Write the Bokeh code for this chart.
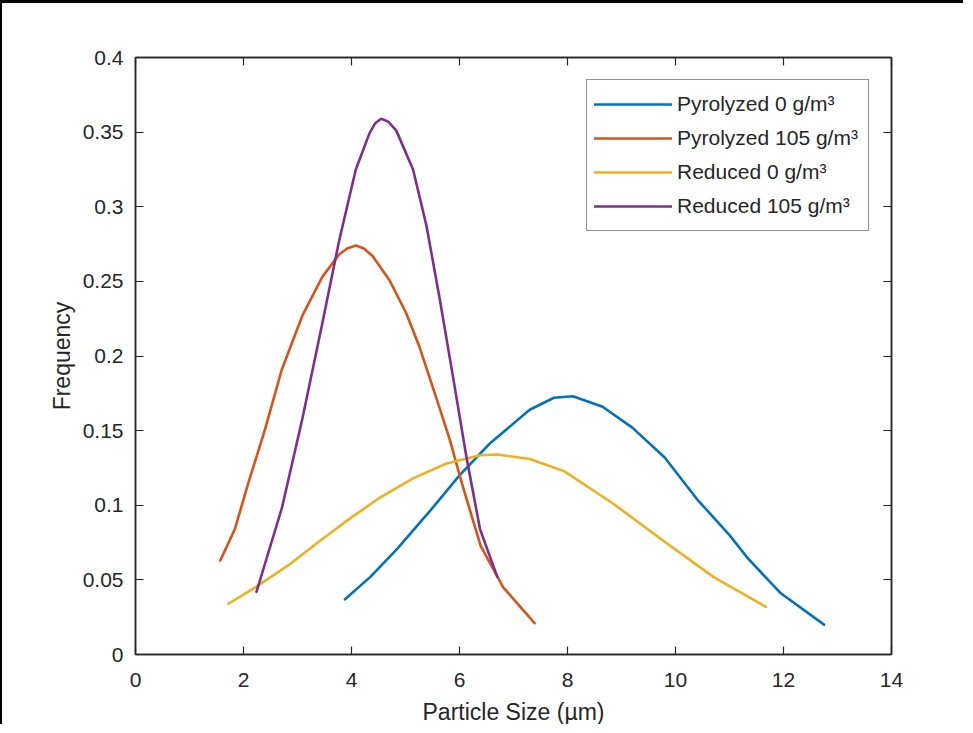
from bokeh.plotting import figure
from bokeh.models import LinearAxis, Range1d, FixedTicker, Legend, LegendItem
from bokeh.embed import file_html
from bokeh.resources import INLINE

# ---- data ----
pyro0_x = [3.88, 4.35, 4.85, 5.45, 6.0, 6.55, 7.3, 7.75, 8.1, 8.65, 9.2, 9.8, 10.4, 11.0, 11.35, 11.95, 12.75]
pyro0_y = [0.037, 0.052, 0.071, 0.096, 0.120, 0.141, 0.164, 0.172, 0.173, 0.166, 0.152, 0.132, 0.104, 0.080, 0.064, 0.041, 0.020]

pyro105_x = [1.57, 1.84, 2.09, 2.40, 2.71, 3.09, 3.46, 3.77, 3.92, 4.08, 4.23, 4.39, 4.70, 5.01, 5.26, 5.57, 5.82, 6.05, 6.39, 6.81, 7.39]
pyro105_y = [0.063, 0.084, 0.115, 0.151, 0.191, 0.227, 0.253, 0.268, 0.272, 0.274, 0.272, 0.267, 0.251, 0.229, 0.206, 0.172, 0.144, 0.114, 0.073, 0.045, 0.021]

red0_x = [1.72, 2.22, 2.84, 3.34, 3.89, 4.52, 5.14, 5.76, 6.38, 6.7, 7.3, 7.93, 8.85, 9.78, 10.70, 11.67]
red0_y = [0.034, 0.045, 0.060, 0.074, 0.089, 0.105, 0.118, 0.128, 0.1335, 0.134, 0.131, 0.123, 0.101, 0.076, 0.052, 0.032]

red105_x = [2.24, 2.71, 3.09, 3.46, 3.77, 4.08, 4.33, 4.44, 4.55, 4.68, 4.83, 5.14, 5.39, 5.63, 5.88, 6.13, 6.38, 6.70]
red105_y = [0.042, 0.098, 0.158, 0.222, 0.277, 0.325, 0.349, 0.356, 0.359, 0.357, 0.351, 0.325, 0.287, 0.239, 0.186, 0.132, 0.084, 0.052]

series_labels = ["Pyrolyzed 0 g/m\u00b3", "Pyrolyzed 105 g/m\u00b3", "Reduced 0 g/m\u00b3", "Reduced 105 g/m\u00b3"]
series_colors = ["#0072BD", "#D95319", "#EDB120", "#7E2F8E"]

x_ticks = [0, 2, 4, 6, 8, 10, 12, 14]
y_ticks = [0, 0.05, 0.1, 0.15, 0.2, 0.25, 0.3, 0.35, 0.4]
y_tick_labels = ["0", "0.05", "0.1", "0.15", "0.2", "0.25", "0.3", "0.35", "0.4"]

x_title = "Particle Size (\u00b5m)"
y_title = "Frequency"

FONT = "Liberation Sans"
AX = "#262626"

p = figure(width=963, height=724, output_backend="svg", toolbar_location=None,
           x_range=Range1d(0, 14), y_range=Range1d(0, 0.4),
           min_border_left=133, min_border_right=74, min_border_top=54, min_border_bottom=73,
           background_fill_color="white", border_fill_color="white")
p.styles = {"border-top": "3px solid black", "border-left": "2px solid black"}
p.grid.visible = False
p.outline_line_color = AX
p.outline_line_width = 1.5

def style_axis(ax, labels=True):
    ax.axis_line_color = AX
    ax.axis_line_width = 1.5
    ax.major_tick_line_color = AX
    ax.major_tick_line_width = 1.2
    ax.major_tick_in = 8
    ax.major_tick_out = 0
    ax.minor_tick_line_color = None
    ax.major_label_text_font = FONT
    ax.major_label_text_color = AX
    if labels:
        ax.major_label_text_font_size = "21px"
    else:
        ax.major_label_text_font_size = "1px"
        ax.major_label_text_alpha = 0

xa = p.xaxis[0]
ya = p.yaxis[0]
xa.ticker = FixedTicker(ticks=x_ticks)
ya.ticker = FixedTicker(ticks=y_ticks)
ya.major_label_overrides = {t: l for t, l in zip(y_ticks, y_tick_labels)}
style_axis(xa)
style_axis(ya)
xa.major_label_standoff = 18
ya.major_label_standoff = 12
xa.axis_label = x_title
ya.axis_label = y_title
for a in (xa, ya):
    a.axis_label_text_font = FONT
    a.axis_label_text_font_size = "23px"
    a.axis_label_text_font_style = "normal"
    a.axis_label_text_color = AX
xa.axis_label_standoff = 9
ya.axis_label_standoff = 5

top = LinearAxis(ticker=FixedTicker(ticks=x_ticks))
right = LinearAxis(ticker=FixedTicker(ticks=y_ticks))
style_axis(top, labels=False)
style_axis(right, labels=False)
p.add_layout(top, "above")
p.add_layout(right, "right")

xs = [pyro0_x, pyro105_x, red0_x, red105_x]
ys = [pyro0_y, pyro105_y, red0_y, red105_y]
items = []
for x, y, c, lab in zip(xs, ys, series_colors, series_labels):
    r = p.line(x, y, line_color=c, line_width=2.6, line_join="round", line_cap="round")
    items.append(LegendItem(label=lab, renderers=[r]))

legend = Legend(items=items, location="top_right")
legend.margin = 22
legend.padding = 7
legend.spacing = 0
legend.glyph_width = 78
legend.glyph_height = 34
legend.label_height = 34
legend.label_standoff = 5
legend.label_width = 184
legend.label_text_font = FONT
legend.label_text_font_size = "21px"
legend.label_text_color = AX
legend.border_line_color = AX
legend.border_line_width = 1.2
legend.background_fill_color = "white"
legend.background_fill_alpha = 1
p.add_layout(legend, "center")

open("out.html", "w").write(file_html(p, INLINE))
